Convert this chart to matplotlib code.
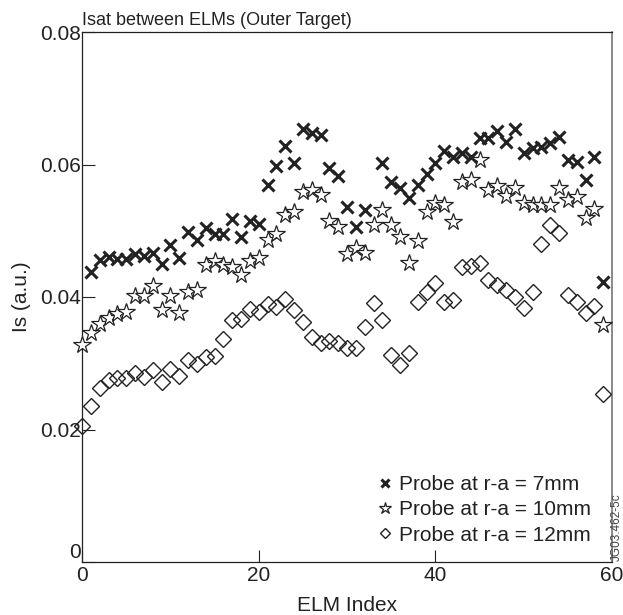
import numpy as np
import matplotlib
matplotlib.use("Agg")
import matplotlib.pyplot as plt

plt.rcParams['font.family'] = ['Liberation Sans', 'DejaVu Sans']

nan = np.nan

elm_index = list(range(60))

# Ion saturation current between ELMs, outer target probes
probe_7mm = [nan, 0.0438, 0.0456, 0.0461, 0.0458, 0.0458, 0.0465, 0.0462, 0.0467, 0.0450,
             0.0479, 0.0459, 0.0498, 0.0486, 0.0504, 0.0495, 0.0495, 0.0518, 0.0491, 0.0515,
             0.0510, 0.0569, 0.0597, 0.0628, 0.0603, 0.0653, 0.0648, 0.0645, 0.0594, 0.0582,
             0.0536, 0.0506, 0.0532, nan, 0.0603, 0.0573, 0.0565, 0.0550, 0.0569, 0.0586,
             0.0603, 0.0621, 0.0612, 0.0618, 0.0612, 0.0640, 0.0640, 0.0651, 0.0634, 0.0654,
             0.0618, 0.0625, 0.0627, 0.0633, 0.0642, 0.0607, 0.0604, 0.0577, 0.0612, 0.0423]

probe_10mm = [0.0328, 0.0346, 0.0360, 0.0368, 0.0375, 0.0377, 0.0402, 0.0401, 0.0416, 0.0381,
              0.0401, 0.0376, 0.0407, 0.0410, 0.0449, 0.0454, 0.0449, 0.0446, 0.0433, 0.0455,
              0.0459, 0.0486, 0.0495, 0.0524, 0.0529, 0.0559, 0.0561, 0.0554, 0.0514, 0.0505,
              0.0465, 0.0474, 0.0467, 0.0509, 0.0532, 0.0509, 0.0491, 0.0452, 0.0484, 0.0529,
              0.0542, 0.0539, 0.0513, 0.0574, 0.0577, 0.0607, 0.0561, 0.0568, 0.0552, 0.0565,
              0.0542, 0.0539, 0.0539, 0.0539, 0.0565, 0.0546, 0.0551, 0.0519, 0.0533, 0.0358]

probe_12mm = [0.0206, 0.0236, 0.0262, 0.0275, 0.0277, 0.0277, 0.0285, 0.0279, 0.0290, 0.0272,
              0.0291, 0.0281, 0.0305, 0.0299, 0.0309, 0.0311, 0.0336, 0.0365, 0.0367, 0.0382,
              0.0377, 0.0390, 0.0385, 0.0397, 0.0381, 0.0363, 0.0340, 0.0331, 0.0333, 0.0331,
              0.0323, 0.0323, 0.0355, 0.0391, 0.0366, 0.0313, 0.0298, 0.0316, 0.0393, 0.0407,
              0.0421, 0.0392, 0.0396, 0.0446, 0.0447, 0.0452, 0.0426, 0.0418, 0.0411, 0.0400,
              0.0383, 0.0408, 0.0480, 0.0508, 0.0496, 0.0403, 0.0393, 0.0376, 0.0387, 0.0253]

x_ticks = [0, 20, 40, 60]
y_ticks = [0, 0.02, 0.04, 0.06, 0.08]
y_tick_labels = ['0', '0.02', '0.04', '0.06', '0.08']

ink = '#222222'

fig = plt.figure(figsize=(6.23, 6.15), dpi=100)
ax = fig.add_axes([82 / 623, 53 / 615, 530 / 623, 530 / 615])

ax.plot(elm_index, probe_7mm, linestyle='none', marker='x', markersize=8,
        markeredgewidth=2.2, color=ink, label='Probe at r-a = 7mm', clip_on=False, zorder=3)
ax.plot(elm_index, probe_10mm, linestyle='none', marker='*', markersize=13,
        markerfacecolor='white', markeredgecolor=ink, markeredgewidth=0.9,
        label='Probe at r-a = 10mm', clip_on=False, zorder=4)
ax.plot(elm_index, probe_12mm, linestyle='none', marker='D', markersize=8,
        markerfacecolor='none', markeredgecolor=ink, markeredgewidth=1.0,
        label='Probe at r-a = 12mm', clip_on=False, zorder=5)

ax.set_xlim(0, 60)
ax.set_ylim(0, 0.08)
ax.set_xticks(x_ticks)
ax.set_xticklabels([str(v) for v in x_ticks])
ax.set_yticks(y_ticks)
ax.set_yticklabels(y_tick_labels)
ax.tick_params(direction='in', length=9, width=0.8, color=ink, labelcolor=ink,
               labelsize=15, top=False, right=False)
ax.tick_params(axis='y', pad=1)
ax.tick_params(axis='x', pad=3)
ax.get_yticklabels()[0].set_verticalalignment('bottom')

for side in ['left', 'bottom', 'top']:
    ax.spines[side].set_color(ink)
    ax.spines[side].set_linewidth(0.9)
ax.spines['right'].set_color('#777777')
ax.spines['right'].set_linewidth(1.2)

ax.set_xlabel('ELM Index', fontsize=15, color=ink, labelpad=8)
ax.set_ylabel('Is (a.u.)', fontsize=15, color=ink, labelpad=6)
ax.set_title('Isat between ELMs (Outer Target)', loc='left', fontsize=13,
             color=ink, pad=5)

leg = ax.legend(loc='lower right', bbox_to_anchor=(0.976, 0.017), frameon=False,
                fontsize=15, numpoints=1, markerscale=0.7, handlelength=0.6,
                handletextpad=0.37, labelspacing=0.3, borderaxespad=0)
for t in leg.get_texts():
    t.set_color(ink)

fig.text(617 / 623, (615 - 527) / 615, 'JG03.462-5c', rotation=90, fontsize=8.5,
         color='#444444', ha='center', va='center')

fig.savefig('out.png', dpi=100)
